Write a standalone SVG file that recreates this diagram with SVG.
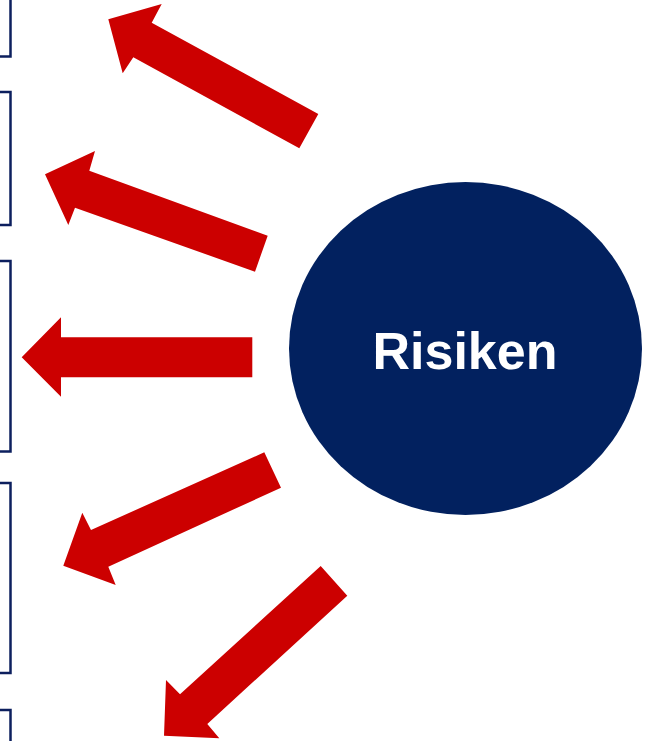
<svg xmlns="http://www.w3.org/2000/svg" width="648" height="741" viewBox="0 0 648 741">
<style>
.box{fill:#ffffff;stroke:#0c1f5e;stroke-width:2.5}
.arrow{fill:#cc0000;stroke:none}
.lbl{font-family:"Liberation Sans",Arial,sans-serif;font-weight:bold;fill:#ffffff;text-anchor:middle}
</style>
<rect width="648" height="741" fill="#ffffff"/>
<g id="box1"><rect class="box" x="-20" y="-20" width="30.5" height="76.5"/></g>
<g id="box2"><rect class="box" x="-20" y="92" width="30.5" height="133"/></g>
<g id="box3"><rect class="box" x="-20" y="261" width="30.5" height="190.5"/></g>
<g id="box4"><rect class="box" x="-20" y="483" width="30.5" height="190"/></g>
<g id="box5"><rect class="box" x="-20" y="710" width="30.5" height="60"/></g>
<g id="connectors">
<polygon class="arrow" points="108.3,19.3 161.7,4 151.7,22.7 318.3,114 299.3,148.3 133.3,57.3 122.7,73.3"/>
<polygon class="arrow" points="45,174.3 95,151 89.3,170.7 267.7,235.7 255,271.7 75,207.7 68.3,225"/>
<polygon class="arrow" points="21.7,357.3 61,317.3 61,337.3 252.3,337.3 252.3,377.3 61,377.3 61,396.7"/>
<polygon class="arrow" points="63.3,565.7 82.3,512.7 91,530 264.3,452.3 281,487.7 108.3,566.7 115.7,585"/>
<polygon class="arrow" points="164,735.7 166,680 180,694.3 320.7,566 347.3,595.7 207.3,724 219.3,738.3"/>
</g>
<g id="risiken">
<ellipse cx="465.5" cy="348.5" rx="176.5" ry="166.5" fill="#02215f"/>
<text class="lbl" x="465" y="369" font-size="52">Risiken</text>
</g>
</svg>
